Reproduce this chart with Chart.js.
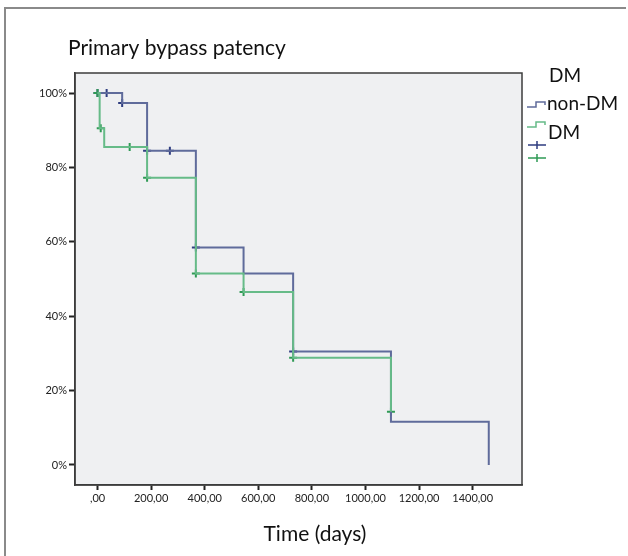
<!DOCTYPE html>
<html>
<head>
<meta charset="utf-8">
<script src="https://cdn.jsdelivr.net/npm/chart.js@4/dist/chart.umd.min.js"></script>
<style>
  html, body { margin: 0; padding: 0; background: #fff; }
  #wrap { width: 628px; height: 556px; position: relative; }
</style>
</head>
<body>
<div id="wrap"><canvas id="km" width="628" height="556"></canvas></div>
<script>
// Kaplan-Meier data (time in days, survival in %)
const nonDmTimes = [0, 92, 185, 367, 545, 730, 1095, 1460];
const nonDmSurv = [100, 97.3, 84.5, 58.5, 51.5, 30.5, 11.6, 0];
const nonDmCensored = [0, 34, 92, 185, 270, 367, 730];

const dmTimes = [0, 8, 25, 185, 367, 545, 730, 1095];
const dmSurv = [100, 90.5, 85.5, 77.2, 51.5, 46.5, 28.8, 14.3];
const dmCensored = [0, 12, 120, 185, 367, 545, 730, 1095];

const xTicks = [0, 200, 400, 600, 800, 1000, 1200, 1400];
const yTicks = [0, 20, 40, 60, 80, 100];

const NAVY = '#5f6b9b';
const NAVY_MARK = '#2f3d80';
const GREEN = '#66bb88';
const GREEN_MARK = '#2f9a55';

function survAt(times, surv, t) {
  let v = surv[0];
  for (let i = 0; i < times.length; i++) {
    if (times[i] <= t) v = surv[i];
  }
  return v;
}

const toPts = (xs, ys) => xs.map((x, i) => ({ x: x, y: ys[i] }));
const censorPts = (cs, times, surv) => cs.map(t => ({ x: t, y: survAt(times, surv, t) }));

const font = "Lato, 'Open Sans', sans-serif";

// frame, plot background, titles and legend
const decor = {
  id: 'decor',
  beforeDraw(chart) {
    const { ctx, chartArea: a } = chart;
    ctx.save();
    ctx.fillStyle = '#fff';
    ctx.fillRect(0, 0, chart.width, chart.height);
    ctx.strokeStyle = '#8a8a8a';
    ctx.lineWidth = 2;
    ctx.beginPath();
    ctx.moveTo(5, 556);
    ctx.lineTo(5, 8);
    ctx.lineTo(626, 8);
    ctx.stroke();
    ctx.fillStyle = '#eff0f2';
    ctx.fillRect(a.left, a.top, a.right - a.left, a.bottom - a.top);
    ctx.restore();
  },
  afterDraw(chart) {
    const { ctx, chartArea: a } = chart;
    ctx.save();
    ctx.strokeStyle = '#3c3c3c';
    ctx.lineWidth = 1.5;
    ctx.strokeRect(a.left, a.top, a.right - a.left, a.bottom - a.top);

    ctx.fillStyle = '#111';
    ctx.textBaseline = 'alphabetic';
    ctx.textAlign = 'left';
    ctx.font = '21px ' + font;
    ctx.fillText('Primary bypass patency', 68, 55);
    ctx.textAlign = 'center';
    ctx.font = '21px ' + font;
    ctx.fillText('Time (days)', 315, 541);

    // legend
    ctx.textAlign = 'left';
    ctx.textBaseline = 'middle';
    ctx.font = '19px ' + font;
    ctx.fillText('DM', 549, 76);
    ctx.fillText('non-DM', 547, 104);
    ctx.fillText('DM', 548, 133);

    ctx.lineWidth = 1.5;
    const step = (y, c) => {
      ctx.strokeStyle = c;
      ctx.beginPath();
      ctx.moveTo(527, y + 3);
      ctx.lineTo(536, y + 3);
      ctx.lineTo(536, y - 2);
      ctx.lineTo(545, y - 2);
      ctx.lineTo(545, y + 1);
      ctx.stroke();
    };
    step(104, NAVY);
    step(124, GREEN);
    const plus = (y, c) => {
      ctx.strokeStyle = c;
      ctx.beginPath();
      ctx.moveTo(528, y); ctx.lineTo(546, y);
      ctx.moveTo(537, y - 4); ctx.lineTo(537, y + 4);
      ctx.stroke();
    };
    plus(145, NAVY_MARK);
    plus(158, GREEN_MARK);
    ctx.restore();
  }
};

new Chart(document.getElementById('km'), {
  type: 'scatter',
  data: {
    datasets: [
      {
        label: 'DM',
        data: toPts(dmTimes, dmSurv),
        showLine: true,
        stepped: 'before',
        borderColor: GREEN,
        borderWidth: 2,
        pointRadius: 0
      },
      {
        label: 'non-DM',
        data: toPts(nonDmTimes, nonDmSurv),
        showLine: true,
        stepped: 'before',
        borderColor: NAVY,
        borderWidth: 2,
        pointRadius: 0
      },
      {
        label: 'DM censored',
        data: censorPts(dmCensored, dmTimes, dmSurv),
        pointStyle: 'cross',
        pointRadius: 4,
        borderColor: GREEN_MARK,
        borderWidth: 2
      },
      {
        label: 'non-DM censored',
        data: censorPts(nonDmCensored, nonDmTimes, nonDmSurv),
        pointStyle: 'cross',
        pointRadius: 4,
        borderColor: NAVY_MARK,
        borderWidth: 2
      }
    ]
  },
  options: {
    responsive: false,
    animation: false,
    layout: { padding: { left: 0, top: 73, right: 106, bottom: 0 } },
    plugins: {
      legend: { display: false },
      tooltip: { enabled: false }
    },
    scales: {
      x: {
        type: 'linear',
        min: -84,
        max: 1584,
        afterFit(scale) { scale.height = 71; },
        afterBuildTicks(scale) { scale.ticks = xTicks.map(v => ({ value: v })); },
        ticks: {
          color: '#222',
          font: { family: font, size: 11 },
          padding: 2,
          maxRotation: 0,
          callback: v => (v === 0 ? ',00' : v + ',00')
        },
        grid: { drawOnChartArea: false, tickLength: 5, color: '#222', tickWidth: 2 },
        border: { color: '#3c3c3c', width: 1.5 }
      },
      y: {
        min: -5.38,
        max: 105.38,
        afterFit(scale) { scale.width = 75; },
        afterBuildTicks(scale) { scale.ticks = yTicks.map(v => ({ value: v })); },
        ticks: {
          color: '#222',
          font: { family: font, size: 11 },
          padding: 2,
          callback: v => v + '%'
        },
        grid: { drawOnChartArea: false, tickLength: 6, color: '#222', tickWidth: 2 },
        border: { color: '#3c3c3c', width: 1.5 }
      }
    }
  },
  plugins: [decor]
});
</script>
</body>
</html>
